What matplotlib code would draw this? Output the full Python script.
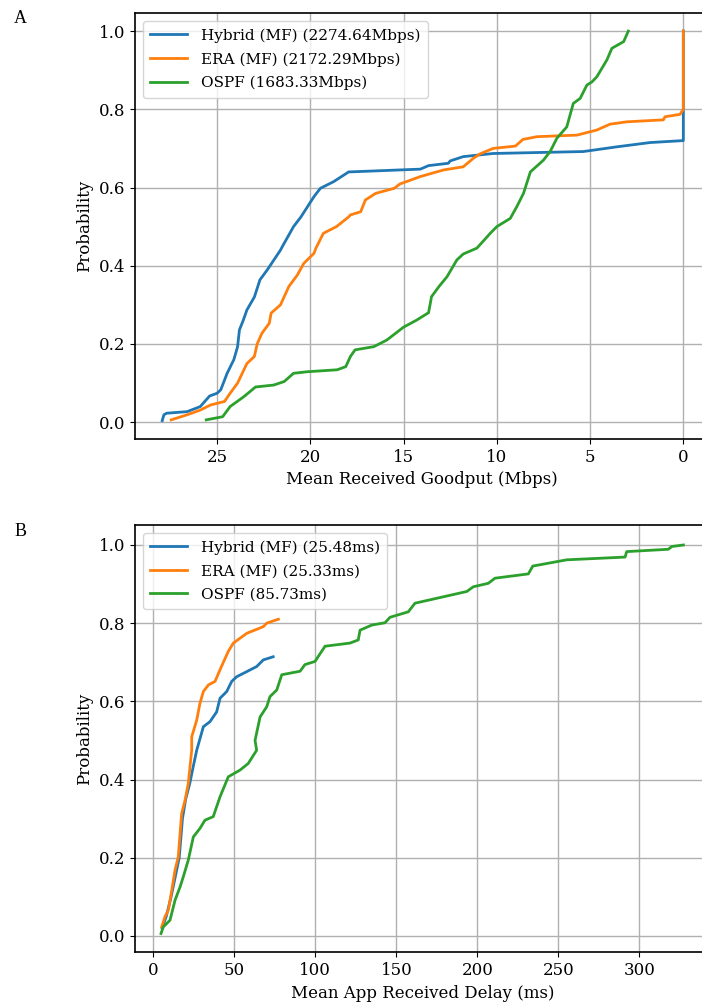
import matplotlib
matplotlib.use("Agg")
import matplotlib.pyplot as plt

# Goodput CDF (Mbps, probability)
hyb_gp_x = [27.94, 27.85, 27.7, 26.6, 25.9, 25.4, 25.0, 24.8, 24.46, 24.1, 23.9, 23.8, 23.6, 23.4,
            23.0, 22.7, 22.3, 21.6, 21.5, 20.9, 20.5, 19.8, 19.46, 18.75, 17.94, 17.85, 14.1, 13.66,
            12.6, 12.5, 11.8, 10.2, 5.36, 3.57, 1.78, 0.0, 0.0]
hyb_gp_y = [0.004, 0.019, 0.023, 0.027, 0.04, 0.067, 0.074, 0.083, 0.125, 0.16, 0.193, 0.236, 0.26,
            0.287, 0.32, 0.364, 0.39, 0.44, 0.449, 0.50, 0.525, 0.577, 0.598, 0.615, 0.64, 0.64, 0.647,
            0.656, 0.662, 0.668, 0.679, 0.687, 0.692, 0.704, 0.715, 0.72, 1.0]

era_gp_x = [27.46, 26.6, 25.9, 25.35, 24.6, 24.3, 23.9, 23.4, 23.0, 22.85, 22.6, 22.2, 22.1, 21.6,
            21.15, 20.7, 20.35, 19.8, 19.7, 19.3, 18.6, 17.94, 17.85, 17.3, 17.05, 16.5, 15.5, 15.2,
            14.1, 12.85, 11.8, 11.25, 10.9, 10.2, 9.0, 8.6, 7.85, 5.7, 4.64, 3.93, 3.03, 1.07, 0.98,
            0.18, 0.0, 0.0]
era_gp_y = [0.006, 0.019, 0.031, 0.044, 0.053, 0.074, 0.10, 0.15, 0.168, 0.20, 0.227, 0.253, 0.279,
            0.30, 0.347, 0.376, 0.406, 0.432, 0.445, 0.483, 0.50, 0.525, 0.53, 0.538, 0.568, 0.585,
            0.598, 0.609, 0.628, 0.645, 0.653, 0.675, 0.686, 0.70, 0.706, 0.723, 0.73, 0.734, 0.747,
            0.762, 0.768, 0.773, 0.781, 0.787, 0.80, 1.0]

ospf_gp_x = [25.58, 24.7, 24.3, 23.57, 22.94, 21.96, 21.4, 20.9, 20.17, 18.56, 18.1, 17.85, 17.6,
             16.6, 15.9, 15.0, 14.3, 13.66, 13.5, 13.1, 12.67, 12.14, 11.8, 11.07, 10.35, 10.0, 9.28,
             8.93, 8.57, 8.2, 7.5, 7.14, 6.78, 6.25, 5.9, 5.53, 5.17, 4.9, 4.64, 4.1, 3.83, 3.2, 2.95]
ospf_gp_y = [0.006, 0.014, 0.04, 0.065, 0.09, 0.095, 0.104, 0.125, 0.129, 0.134, 0.142, 0.168, 0.185,
             0.193, 0.21, 0.243, 0.261, 0.28, 0.321, 0.347, 0.372, 0.415, 0.43, 0.445, 0.483, 0.50,
             0.521, 0.551, 0.585, 0.64, 0.67, 0.692, 0.726, 0.755, 0.815, 0.828, 0.862, 0.87, 0.883,
             0.926, 0.956, 0.973, 1.0]

# Delay CDF (ms, probability)
hyb_dl_x = [5.5, 8.0, 11.0, 13.5, 16.0, 18.0, 20.0, 22.5, 25.0, 26.8, 30.9, 35.0, 39.1, 41.2, 45.3,
            48.4, 51.5, 57.7, 63.8, 67.9, 74.0]
hyb_dl_y = [0.02, 0.05, 0.10, 0.15, 0.20, 0.30, 0.35, 0.39, 0.44, 0.475, 0.535, 0.548, 0.573, 0.608,
            0.625, 0.651, 0.663, 0.676, 0.689, 0.706, 0.714]

era_dl_x = [5.2, 7.2, 9.3, 11.4, 13.4, 15.4, 17.5, 19.6, 21.6, 23.7, 23.7, 26.8, 28.8, 30.9, 34.0,
            38.1, 41.2, 46.3, 49.4, 57.7, 67.9, 70.0, 77.2]
era_dl_y = [0.023, 0.049, 0.066, 0.117, 0.168, 0.202, 0.313, 0.347, 0.39, 0.475, 0.509, 0.552, 0.595,
            0.625, 0.642, 0.651, 0.681, 0.728, 0.749, 0.774, 0.791, 0.80, 0.81]

ospf_dl_x = [4.75, 6.2, 10.3, 13.4, 16.5, 18.5, 21.6, 24.7, 28.8, 31.9, 37.0, 41.2, 46.3, 53.5, 58.6,
             63.8, 62.8, 65.9, 70.0, 72.0, 76.2, 79.3, 90.6, 93.6, 99.8, 106.0, 121.4, 126.5, 127.6,
             134.8, 143.0, 146.1, 157.4, 161.5, 193.5, 197.5, 206.8, 210.9, 231.5, 234.2, 255.2,
             291.2, 292.2, 317.9, 320.0, 327.2]
ospf_dl_y = [0.006, 0.023, 0.04, 0.091, 0.125, 0.151, 0.194, 0.253, 0.275, 0.296, 0.305, 0.356, 0.407,
             0.424, 0.441, 0.475, 0.50, 0.56, 0.586, 0.612, 0.629, 0.668, 0.677, 0.694, 0.702, 0.741,
             0.749, 0.757, 0.782, 0.795, 0.801, 0.815, 0.829, 0.851, 0.881, 0.893, 0.902, 0.915, 0.926,
             0.946, 0.962, 0.969, 0.983, 0.989, 0.996, 1.0]

gp_labels = ["Hybrid (MF) (2274.64Mbps)", "ERA (MF) (2172.29Mbps)", "OSPF (1683.33Mbps)"]
dl_labels = ["Hybrid (MF) (25.48ms)", "ERA (MF) (25.33ms)", "OSPF (85.73ms)"]
colors = ["#1f77b4", "#ff7f0e", "#2ca02c"]

plt.rcParams["font.family"] = "DejaVu Serif"
plt.rcParams["font.size"] = 12

fig = plt.figure(figsize=(7.02, 10.06), dpi=100)
# axes run past the right edge, as in the cropped original
ax1 = fig.add_axes([0.1923, 0.5636, 1.0106 - 0.1923, 0.987 - 0.5636])
ax2 = fig.add_axes([0.1923, 0.0534, 1.0123 - 0.1923, 0.4781 - 0.0534])

for ax, series, labels in [
    (ax1, [(hyb_gp_x, hyb_gp_y), (era_gp_x, era_gp_y), (ospf_gp_x, ospf_gp_y)], gp_labels),
    (ax2, [(hyb_dl_x, hyb_dl_y), (era_dl_x, era_dl_y), (ospf_dl_x, ospf_dl_y)], dl_labels),
]:
    for (x, y), lab, c in zip(series, labels, colors):
        ax.plot(x, y, color=c, lw=2, label=lab)
    ax.grid(True, color="#b0b0b0", lw=1.0)
    ax.set_ylabel("Probability")
    ax.set_yticks([0.0, 0.2, 0.4, 0.6, 0.8, 1.0])
    ax.legend(loc="upper left", fontsize=11, handlelength=2.4, handletextpad=0.9,
              labelspacing=0.62, borderpad=0.5)
    for s in ax.spines.values():
        s.set_linewidth(1.2)
    ax.spines["right"].set_visible(False)

ax1.set_xlim(29.4, -1.4)
ax1.set_ylim(-0.043, 1.046)
ax1.set_xticks([25, 20, 15, 10, 5, 0])
ax1.set_xlabel("Mean Received Goodput (Mbps)")

ax2.set_xlim(-11.3, 344)
ax2.set_ylim(-0.042, 1.051)
ax2.set_xticks([0, 50, 100, 150, 200, 250, 300])
ax2.set_xlabel("Mean App Received Delay (ms)")

fig.text(0.029, 0.982, "A", family="Liberation Serif", fontsize=13, ha="center", va="center")
fig.text(0.029, 0.472, "B", family="Liberation Serif", fontsize=13, ha="center", va="center")

fig.savefig("out.png", dpi=100)
